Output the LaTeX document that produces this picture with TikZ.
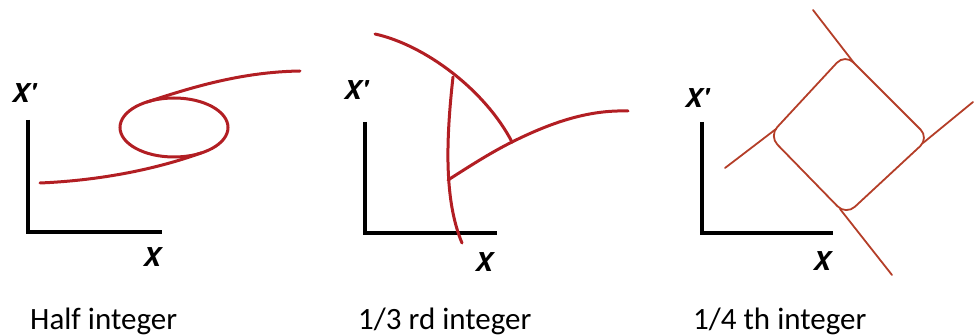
\documentclass[tikz,border=0pt]{standalone}
\usepackage{fontspec}
\setmainfont{Carlito}
\newfontfamily\axfont{TeX Gyre Heros}
\definecolor{curvered}{RGB}{178,30,35}
\definecolor{linered}{RGB}{180,62,40}
\tikzset{
  axisline/.style={line width=4.5pt, black, line cap=butt, line join=miter},
  orbit/.style={line width=3pt, curvered, line cap=round},
  sepline/.style={line width=1.8pt, linered, line cap=round},
  axlabel/.style={font=\fontsize{26}{26}\axfont\bfseries\itshape, inner sep=0pt},
  caption/.style={font=\fontsize{31}{31}\selectfont, inner sep=0pt, anchor=base west}
}
\begin{document}
\begin{tikzpicture}[x=1pt,y=-1pt]
\useasboundingbox (0,0) rectangle (975,336);

% ---------- Panel 1: half integer ----------
\coordinate (a1o) at (28,232);
\coordinate (a1y) at (28,120);
\coordinate (a1x) at (162,232);
\draw[axisline] (a1y) -- (a1o) -- (a1x);
\node[axlabel] (p1xp) at (24,93) {X'};
\node[axlabel] (p1x) at (152,257) {X};
\coordinate (e1c) at (174,127.5);
\draw[orbit] (e1c) ellipse [x radius=54, y radius=29.5];
\coordinate (l1s) at (40,183);
\coordinate (l1e) at (201,153);
\draw[orbit] (l1s) .. controls (110,180) and (165,166) .. (l1e);
\coordinate (u1s) at (147,102);
\coordinate (u1e) at (300,71);
\draw[orbit] (u1s) .. controls (190,88) and (240,72) .. (u1e);
\node[caption] (c1) at (30,330) {Half integer};

% ---------- Panel 2: 1/3 rd integer ----------
\coordinate (a2o) at (365,233);
\coordinate (a2y) at (365,122);
\coordinate (a2x) at (497,233);
\draw[axisline] (a2y) -- (a2o) -- (a2x);
\node[axlabel] (p2xp) at (356,90) {X'};
\node[axlabel] (p2x) at (484,262) {X};
\coordinate (t2a) at (375,34);
\coordinate (t2v) at (512,142);
\coordinate (t2top) at (453,77);
\coordinate (t2l) at (448,180);
\coordinate (t2bot) at (462,243);
\coordinate (t2r) at (628,111);
\draw[orbit] (t2a) .. controls (425,45) and (485,90) .. (t2v);
\draw[orbit] (t2top) .. controls (446,140) and (444,200) .. (t2bot);
\draw[orbit] (t2l) .. controls (470,166) and (490,153) .. (t2v);
\draw[orbit] (t2v) .. controls (560,118) and (595,110) .. (t2r);
\node[caption] (c2) at (358,330) {1/3 rd integer};

% ---------- Panel 3: 1/4 th integer ----------
\coordinate (a3o) at (702,233);
\coordinate (a3y) at (702,122);
\coordinate (a3x) at (833,233);
\draw[axisline] (a3y) -- (a3o) -- (a3x);
\node[axlabel] (p3xp) at (697,98) {X'};
\node[axlabel] (p3x) at (822,261) {X};
\coordinate (sT) at (845,54);
\coordinate (sR) at (929,138);
\coordinate (sB) at (846,215);
\coordinate (sL) at (769,136);
\draw[sepline, rounded corners=12pt] (sL) -- (sT) -- (sR) -- (sB) -- cycle;
\coordinate (tt1) at (813,10);
\coordinate (tt2) at (854,63);
\coordinate (tl1) at (725,168);
\coordinate (tl2) at (776,129);
\coordinate (tb1) at (840,209);
\coordinate (tb2) at (892,275);
\coordinate (tr1) at (923,143);
\coordinate (tr2) at (973,102);
\draw[sepline] (tt1) -- (tt2);
\draw[sepline] (tl1) -- (tl2);
\draw[sepline] (tb1) -- (tb2);
\draw[sepline] (tr1) -- (tr2);
\node[caption] (c3) at (693,330) {1/4 th integer};
\end{tikzpicture}
\end{document}
